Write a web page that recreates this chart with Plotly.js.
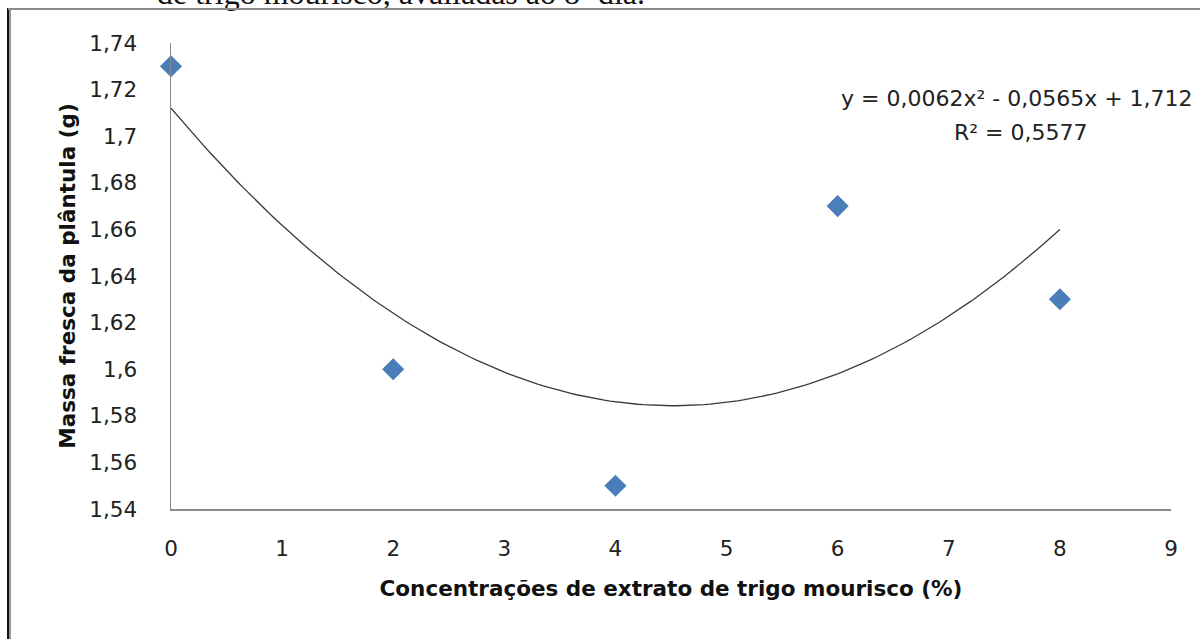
<!DOCTYPE html>
<html>
<head>
<meta charset="utf-8">
<script src="https://cdn.plot.ly/plotly-3.0.1.min.js"></script>
<style>
  html, body { margin: 0; padding: 0; background: #fff; overflow: hidden; }
  #wrap { position: relative; width: 1200px; height: 639px; }
  #chart { position: absolute; left: 0; top: 0; width: 1200px; height: 639px; }
  .edge { position: absolute; pointer-events: none; }
</style>
</head>
<body>
<div id="wrap">
  <div id="chart"></div>
  <div class="edge" style="left:7px;top:8px;width:2px;height:631px;background:#111;"></div>
  <div class="edge" style="left:9px;top:8px;width:2px;height:631px;background:#9a9a9a;"></div>
  <div class="edge" style="left:8px;top:8px;width:1192px;height:2px;background:#8c8c8c;"></div>
</div>
<script>
// Data
const concentrations = [0, 2, 4, 6, 8];          // % extract
const freshMass = [1.73, 1.60, 1.55, 1.67, 1.63]; // g
const xTickVals = [0, 1, 2, 3, 4, 5, 6, 7, 8, 9];
const yTickVals = [1.54, 1.56, 1.58, 1.60, 1.62, 1.64, 1.66, 1.68, 1.70, 1.72, 1.74];
const yTickText = ["1,54", "1,56", "1,58", "1,6", "1,62", "1,64", "1,66", "1,68", "1,7", "1,72", "1,74"];
const equationText = "y = 0,0062x² - 0,0565x + 1,712";
const r2Text = "R² = 0,5577";
const headerText = "de trigo mourisco, avaliadas ao 8º dia.";
const xTitle = "Concentrações de extrato de trigo mourisco (%)";
const yTitle = "Massa fresca da plântula (g)";

// Polynomial (order 2) least-squares trendline fitted to the data, as Excel does
function polyFit2(xs, ys) {
  let S = [0,0,0,0,0], T = [0,0,0];
  for (let i = 0; i < xs.length; i++) {
    let p = 1;
    for (let k = 0; k < 5; k++) { S[k] += p; if (k < 3) T[k] += p * ys[i]; p *= xs[i]; }
  }
  const A = [[S[0],S[1],S[2],T[0]],[S[1],S[2],S[3],T[1]],[S[2],S[3],S[4],T[2]]];
  for (let c = 0; c < 3; c++) {
    for (let r = c + 1; r < 3; r++) {
      const f = A[r][c] / A[c][c];
      for (let k = c; k < 4; k++) A[r][k] -= f * A[c][k];
    }
  }
  const co = [0,0,0];
  for (let r = 2; r >= 0; r--) {
    let s = A[r][3];
    for (let k = r + 1; k < 3; k++) s -= A[r][k] * co[k];
    co[r] = s / A[r][r];
  }
  return co;
}
const coef = polyFit2(concentrations, freshMass);
const xMin = Math.min(...concentrations), xMax = Math.max(...concentrations);
const trendX = [], trendY = [];
for (let i = 0; i <= 160; i++) {
  const x = xMin + (xMax - xMin) * i / 160;
  trendX.push(x);
  trendY.push(coef[0] + coef[1] * x + coef[2] * x * x);
}

const FONT = "DejaVu Sans, sans-serif";
const tickFont = { family: FONT, size: 21.5, color: "#222" };
const titleFont = { family: FONT, size: 21.5, color: "#111", weight: "bold" };

const traces = [
  {
    x: trendX, y: trendY, type: "scatter", mode: "lines",
    line: { color: "#3a3a3a", width: 1.3 }, hoverinfo: "skip", showlegend: false
  },
  {
    x: concentrations, y: freshMass, type: "scatter", mode: "markers",
    marker: { symbol: "diamond", size: 17, color: "#4a7ebb", line: { width: 0 } },
    showlegend: false, cliponaxis: false
  }
];

const layout = {
  width: 1200, height: 639,
  margin: { l: 171, r: 29, t: 43, b: 130 },
  paper_bgcolor: "rgba(0,0,0,0)", plot_bgcolor: "rgba(0,0,0,0)",
  showlegend: false,
  xaxis: {
    range: [0, 9], tickvals: xTickVals, ticktext: xTickVals.map(String),
    showgrid: false, zeroline: false, showline: true, linecolor: "#8a8a8a", linewidth: 1.5,
    ticks: "", ticklabelstandoff: 20, tickfont: tickFont,
    title: { text: xTitle, font: titleFont, standoff: 20 }
  },
  yaxis: {
    range: [1.54, 1.74], tickvals: yTickVals, ticktext: yTickText,
    showgrid: false, zeroline: false, showline: true, linecolor: "#8a8a8a", linewidth: 1.5,
    ticks: "", ticklabelstandoff: 28, tickfont: tickFont,
    title: { text: yTitle, font: titleFont, standoff: 8 }
  },
  annotations: [
    { xref: "paper", yref: "paper", x: (1017 - 171) / 1000, y: 1 - (98 - 43) / 466, xanchor: "center", yanchor: "middle",
      text: equationText, showarrow: false, font: { family: FONT, size: 22, color: "#222" } },
    { xref: "paper", yref: "paper", x: (1021 - 171) / 1000, y: 1 - (132 - 43) / 466, xanchor: "center", yanchor: "middle",
      text: r2Text, showarrow: false, font: { family: FONT, size: 22, color: "#222" } },
    { xref: "paper", yref: "paper", x: (155 - 171) / 1000, y: 1 + (43 + 7) / 466, xanchor: "left", yanchor: "middle",
      text: headerText, showarrow: false, font: { family: "Liberation Serif, serif", size: 32, color: "#111" } }
  ]
};

Plotly.newPlot("chart", traces, layout, { displayModeBar: false, staticPlot: true });
</script>
</body>
</html>
